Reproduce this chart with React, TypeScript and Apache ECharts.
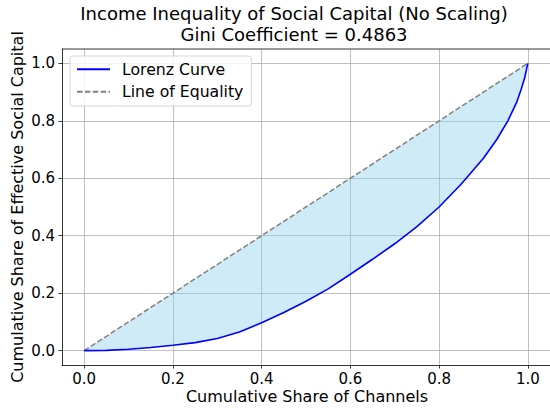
import React, { useEffect, useRef } from "react";
import * as echarts from "echarts";

const shareChannels = [0, 0.05, 0.1, 0.15, 0.2, 0.25, 0.3, 0.35, 0.4, 0.45, 0.5, 0.55, 0.6, 0.65, 0.7, 0.75, 0.8, 0.85, 0.9, 0.93, 0.955, 0.975, 0.985, 0.993, 1.0];
const lorenzValues = [0, 0.001, 0.005, 0.011, 0.019, 0.028, 0.042, 0.065, 0.097, 0.133, 0.172, 0.215, 0.266, 0.318, 0.372, 0.432, 0.5, 0.58, 0.67, 0.735, 0.8, 0.865, 0.91, 0.95, 1.0];
const equalityX = [0, 1];
const equalityY = [0, 1];
const tickValues = [0, 0.2, 0.4, 0.6, 0.8, 1.0];

const titleText = "Income Inequality of Social Capital (No Scaling)\nGini Coefficient = 0.4863";
const FONT = "DejaVu Sans";

export default function App() {
  const ref = useRef<HTMLDivElement>(null);
  useEffect(() => {
    if (!ref.current) return;
    const chart = echarts.init(ref.current, null, { renderer: "svg" });
    const lorenz = shareChannels.map((x, i) => [x, lorenzValues[i]]);
    const equality = equalityX.map((x, i) => [x, equalityY[i]]);

    const axisCommon = {
      type: "value" as const,
      min: -0.05,
      max: 1.05,
      axisLine: { show: true, onZero: false, lineStyle: { color: "#000", width: 0.8 } },
      axisTick: { show: true, length: 3.5, inside: false, customValues: tickValues, lineStyle: { color: "#000", width: 0.8 } },
      axisLabel: {
        customValues: tickValues,
        formatter: (v: number) => v.toFixed(1),
        fontFamily: FONT,
        fontSize: 15,
        color: "#000",
      },
      splitLine: { show: true, lineStyle: { color: "#b0b0b0", width: 0.8 } },
    };

    chart.setOption({
      animation: false,
      backgroundColor: "#fff",
      textStyle: { fontFamily: FONT },
      title: {
        text: titleText,
        left: 294,
        textAlign: "center",
        top: 3,
        padding: 0,
        textStyle: { fontFamily: FONT, fontSize: 18, lineHeight: 21, fontWeight: "normal", color: "#000" },
      },
      grid: { left: 62, top: 49, right: -2, bottom: 43, containLabel: false },
      xAxis: { ...axisCommon, position: "bottom", axisLabel: { ...axisCommon.axisLabel, margin: 6 } },
      yAxis: { ...axisCommon, position: "left", axisLabel: { ...axisCommon.axisLabel, margin: 7 } },
      legend: {
        orient: "vertical",
        left: 70,
        top: 56,
        data: ["Lorenz Curve", "Line of Equality"],
        itemWidth: 33,
        itemHeight: 16,
        itemGap: 6.4,
        padding: [5.3, 8, 6.3, 6],
        backgroundColor: "rgba(255,255,255,0.8)",
        borderColor: "rgba(204,204,204,0.8)",
        borderWidth: 1,
        borderRadius: 3,
        itemStyle: { opacity: 0 },
        textStyle: { fontFamily: FONT, fontSize: 15.7, lineHeight: 16, color: "#000", padding: [0, 0, 0, 7] },
      },
      graphic: [
        {
          type: "line",
          shape: { x1: 62, y1: 49, x2: 552, y2: 49 },
          style: { stroke: "#000", lineWidth: 0.8 },
          z: 10,
        },
        {
          type: "text",
          x: 307,
          y: 396,
          style: { text: "Cumulative Share of Channels", fontFamily: FONT, fontSize: 16, fill: "#000", textAlign: "center", textVerticalAlign: "middle" },
        },
        {
          type: "text",
          x: 17,
          y: 207,
          rotation: Math.PI / 2,
          style: { text: "Cumulative Share of Effective Social Capital", fontFamily: FONT, fontSize: 16, fill: "#000", textAlign: "center", textVerticalAlign: "middle" },
        },
      ],
      series: [
        {
          name: "fill",
          type: "custom",
          data: lorenz,
          silent: true,
          z: 1,
          renderItem: (params: any, api: any) => {
            if (params.dataIndex !== 0) return null;
            const pts = lorenz.map((p) => api.coord(p));
            const back = equality.slice().reverse().map((p) => api.coord(p));
            return {
              type: "polygon",
              shape: { points: pts.concat(back) },
              style: { fill: "rgba(135,206,235,0.4)", stroke: "none" },
            };
          },
        },
        {
          name: "Line of Equality",
          type: "line",
          data: equality,
          symbol: "none",
          lineStyle: { color: "#808080", width: 1.5, type: [5.5, 2.4] },
          itemStyle: { color: "#808080" },
          z: 3,
        },
        {
          name: "Lorenz Curve",
          type: "line",
          data: lorenz,
          symbol: "none",
          lineStyle: { color: "#0000ff", width: 1.6 },
          itemStyle: { color: "#0000ff" },
          z: 4,
        },
      ],
    });
    return () => chart.dispose();
  }, []);
  return <div ref={ref} style={{ width: 550, height: 408, position: "fixed", left: 0, top: 0 }} />;
}
